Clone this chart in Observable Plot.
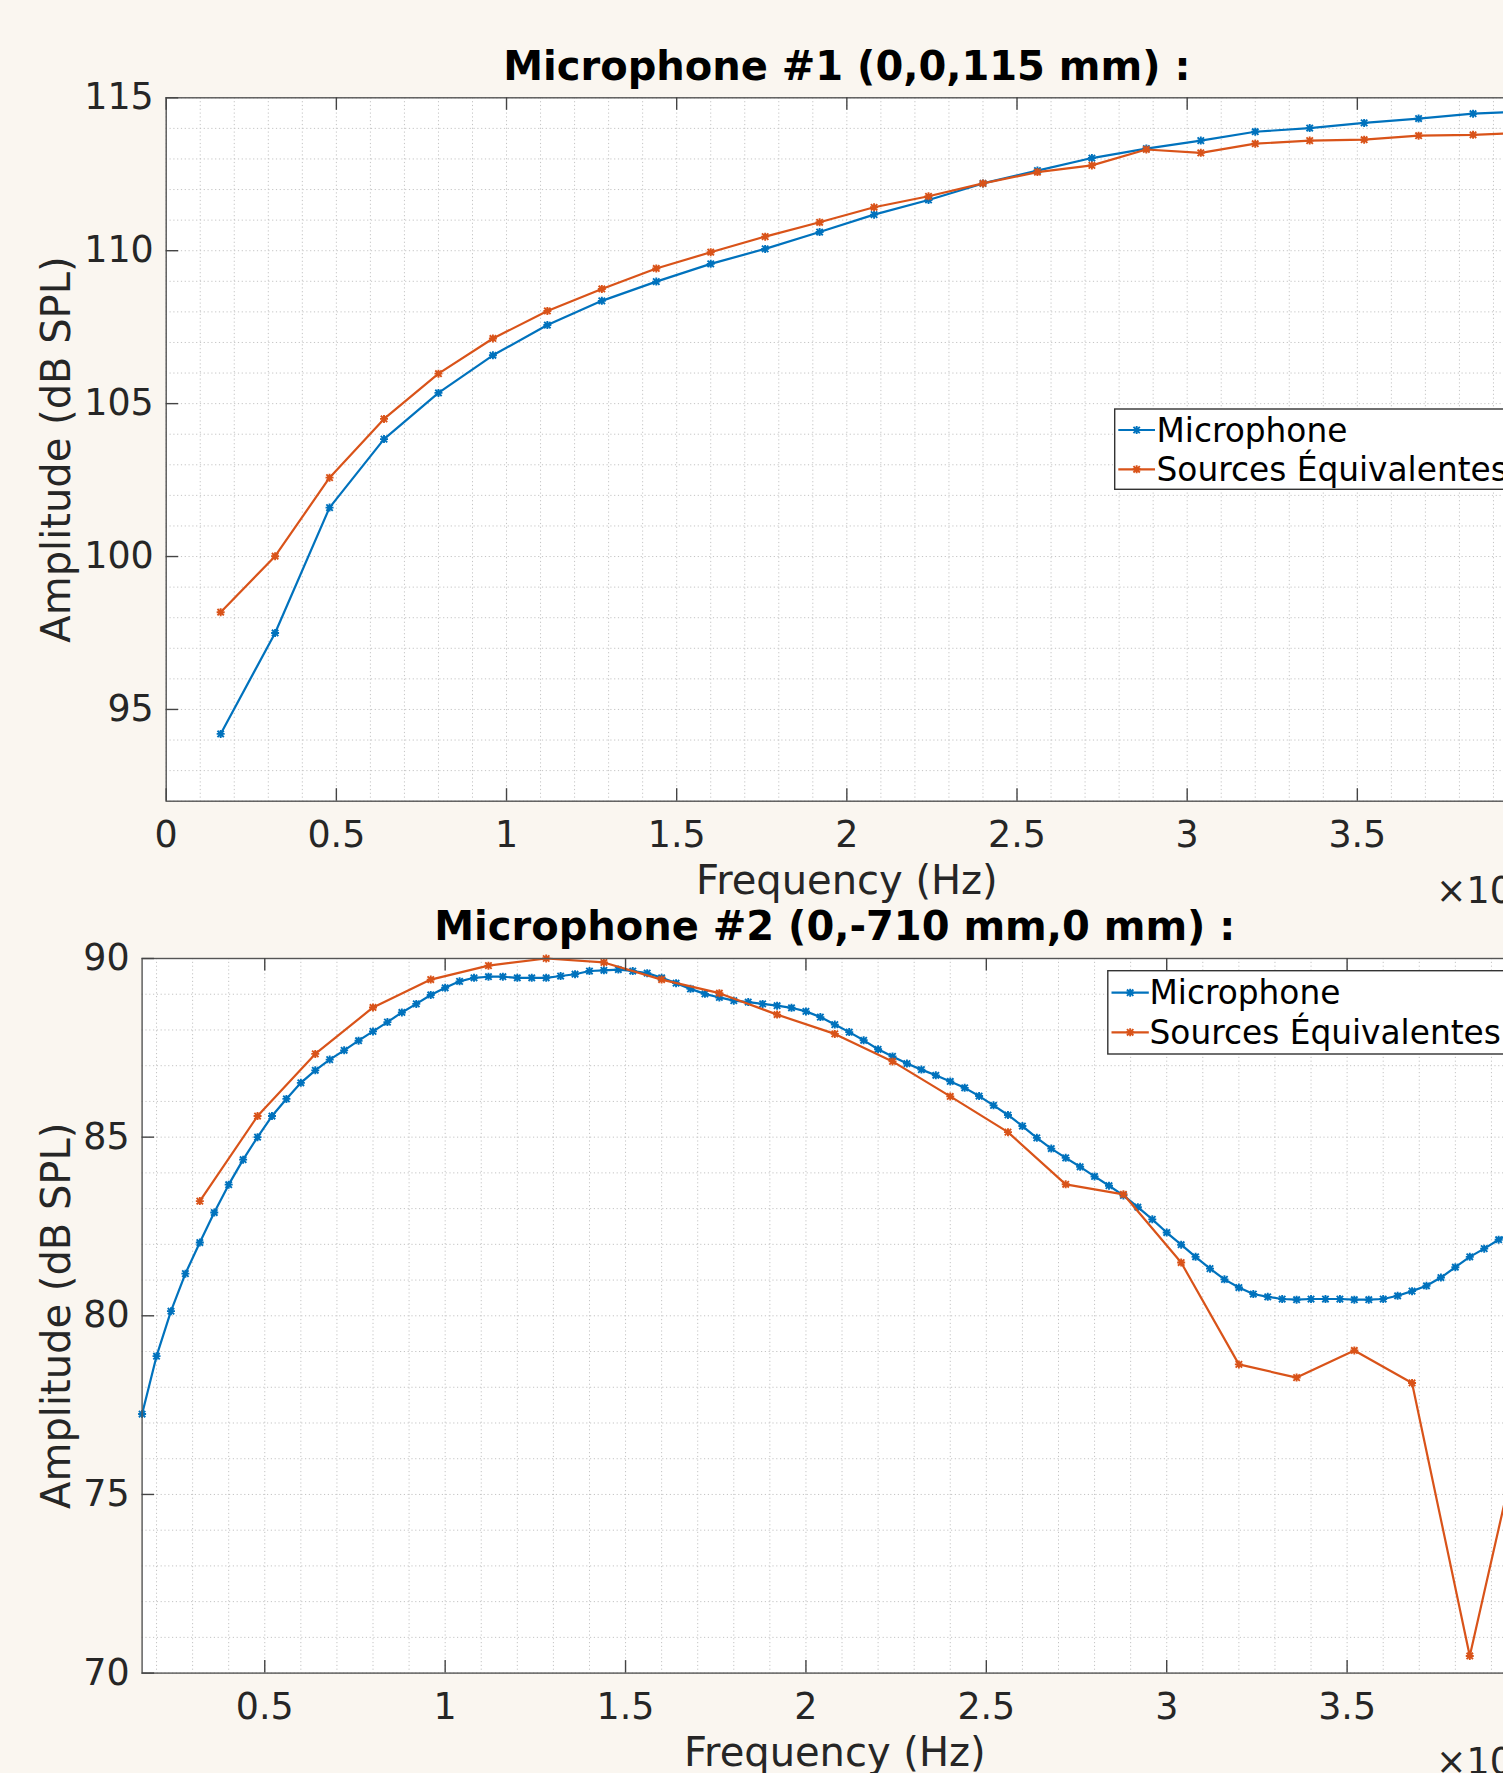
<!DOCTYPE html>
<html>
<head>
<meta charset="utf-8">
<script src="https://cdn.jsdelivr.net/npm/d3@7"></script>
<script src="https://cdn.jsdelivr.net/npm/@observablehq/plot@0.6"></script>
<style>
html,body{margin:0;padding:0;background:#faf6f0;overflow:hidden;}
#wrap{position:relative;width:1560px;height:1773px;overflow:hidden;}
.chart{position:absolute;left:0;}
</style>
</head>
<body>
<div id="wrap"></div>
<script>
// ---------- DATA ----------
// Microphone #1 : frequency (Hz)
const mic1Freq = [1600, 3200, 4800, 6400, 8000, 9600, 11200, 12800, 14400, 16000, 17600, 19200, 20800,
  22400, 24000, 25600, 27200, 28800, 30400, 32000, 33600, 35200, 36800, 38400, 40000];
const mic1Measured = [94.2, 97.5, 101.6, 103.84, 105.35, 106.58, 107.57, 108.36, 108.99, 109.57, 110.06,
  110.61, 111.18, 111.66, 112.2, 112.62, 113.03, 113.34, 113.6, 113.89, 114.01, 114.18, 114.32, 114.48, 114.56];
const mic1Sources = [98.18, 100.01, 102.58, 104.5, 105.98, 107.13, 108.03, 108.75, 109.42, 109.95, 110.46,
  110.93, 111.42, 111.78, 112.2, 112.57, 112.79, 113.31, 113.2, 113.5, 113.6, 113.63, 113.76, 113.79, 113.86];

// Microphone #2 : measured curve (fine frequency grid)
const mic2FreqMeasured = [1600, 2000, 2400, 2800, 3200, 3600, 4000, 4400, 4800, 5200, 5600, 6000, 6400, 6800,
  7200, 7600, 8000, 8400, 8800, 9200, 9600, 10000, 10400, 10800, 11200, 11600, 12000, 12400, 12800, 13200,
  13600, 14000, 14400, 14800, 15200, 15600, 16000, 16400, 16800, 17200, 17600, 18000, 18400, 18800, 19200,
  19600, 20000, 20400, 20800, 21200, 21600, 22000, 22400, 22800, 23200, 23600, 24000, 24400, 24800, 25200,
  25600, 26000, 26400, 26800, 27200, 27600, 28000, 28400, 28800, 29200, 29600, 30000, 30400, 30800, 31200,
  31600, 32000, 32400, 32800, 33200, 33600, 34000, 34400, 34800, 35200, 35600, 36000, 36400, 36800, 37200,
  37600, 38000, 38400, 38800, 39200, 39600, 40000];
const mic2Measured = [77.25, 78.87, 80.13, 81.18, 82.05, 82.89, 83.67, 84.37, 85.0, 85.59, 86.07, 86.52, 86.87,
  87.17, 87.43, 87.7, 87.96, 88.22, 88.49, 88.73, 88.98, 89.18, 89.36, 89.46, 89.49, 89.49, 89.46, 89.46, 89.46,
  89.51, 89.56, 89.65, 89.67, 89.69, 89.65, 89.59, 89.46, 89.31, 89.15, 89.01, 88.91, 88.82, 88.78, 88.73,
  88.68, 88.62, 88.52, 88.36, 88.15, 87.94, 87.71, 87.46, 87.26, 87.06, 86.89, 86.73, 86.56, 86.38, 86.15,
  85.89, 85.62, 85.31, 84.98, 84.68, 84.42, 84.17, 83.9, 83.64, 83.37, 83.04, 82.7, 82.33, 81.99, 81.65,
  81.32, 81.02, 80.79, 80.61, 80.53, 80.47, 80.45, 80.47, 80.47, 80.47, 80.45, 80.45, 80.47, 80.56, 80.69,
  80.84, 81.07, 81.36, 81.65, 81.88, 82.13, 82.35, 82.55];
// Microphone #2 : equivalent sources
const mic2FreqSources = [3200, 4800, 6400, 8000, 9600, 11200, 12800, 14400, 16000, 17600, 19200, 20800, 22400,
  24000, 25600, 27200, 28800, 30400, 32000, 33600, 35200, 36800, 38400, 40000];
const mic2Sources = [83.21, 85.59, 87.33, 88.63, 89.41, 89.8, 90.0, 89.89, 89.41, 89.03, 88.43, 87.89, 87.12,
  86.14, 85.14, 83.68, 83.4, 81.49, 78.64, 78.27, 79.03, 78.12, 70.48, 77.6];

// tick values
const xTicks1 = [0, 5000, 10000, 15000, 20000, 25000, 30000, 35000, 40000];
const yTicks1 = [95, 100, 105, 110, 115];
const xTicks2 = [5000, 10000, 15000, 20000, 25000, 30000, 35000, 40000];
const yTicks2 = [70, 75, 80, 85, 90];

const seriesNames = ["Microphone", "Sources Équivalentes"];
const titles = ["Microphone #1 (0,0,115 mm) :", "Microphone #2 (0,-710 mm,0 mm) :"];

// ---------- STYLE ----------
const BLUE = "#0072BD", ORANGE = "#D95319";
const FONT = "DejaVu Sans";
const AXC = "#262626";
const MR = 4.0, MSW = 1.9;

const asterisk = {
  draw(ctx, size) {
    const r = Math.sqrt(size / Math.PI);
    const d = r * 0.8;
    ctx.moveTo(-r, 0); ctx.lineTo(r, 0);
    ctx.moveTo(0, -r); ctx.lineTo(0, r);
    ctx.moveTo(-d, -d); ctx.lineTo(d, d);
    ctx.moveTo(-d, d); ctx.lineTo(d, -d);
  }
};

function zip(f, v) { return f.map((x, i) => ({f: x, v: v[i]})); }

function makeChart(o) {
  const pw = o.W - o.mL - o.mR, ph = o.H - o.mT - o.mB;
  const mic = zip(o.fMic, o.vMic), src = zip(o.fSrc, o.vSrc);
  const gridStyle = {stroke: "#c4c4c4", strokeOpacity: 1, strokeWidth: 1, strokeDasharray: "1.2,2.6"};
  return Plot.plot({
    width: o.W, height: o.H,
    marginLeft: o.mL, marginRight: o.mR, marginTop: o.mT, marginBottom: o.mB,
    style: {background: "transparent", overflow: "visible", fontFamily: FONT, maxWidth: "none"},
    x: {domain: o.xDomain},
    y: {domain: o.yDomain},
    marks: [
      Plot.frame({fill: "white", stroke: null}),
      Plot.gridX({ticks: o.xMinor, ...gridStyle}),
      Plot.gridY({ticks: o.yMinor, ...gridStyle}),
      Plot.line(mic, {x: "f", y: "v", stroke: BLUE, strokeWidth: 2.2}),
      Plot.dot(mic, {x: "f", y: "v", symbol: asterisk, r: MR, stroke: BLUE, strokeWidth: MSW, fill: "none"}),
      Plot.line(src, {x: "f", y: "v", stroke: ORANGE, strokeWidth: 2.2}),
      Plot.dot(src, {x: "f", y: "v", symbol: asterisk, r: MR, stroke: ORANGE, strokeWidth: MSW, fill: "none"}),
      Plot.frame({stroke: "#555", strokeWidth: 1.4}),
      Plot.ruleX(o.xTicks, {insetTop: ph - 12.5, stroke: "#444", strokeWidth: 1.4}),
      Plot.ruleX(o.xTicks, {insetBottom: ph - 12.5, stroke: "#444", strokeWidth: 1.4}),
      Plot.ruleY(o.yTicks, {insetRight: pw - 12.5, stroke: "#444", strokeWidth: 1.4}),
      Plot.ruleY(o.yTicks, {insetLeft: pw - 12.5, stroke: "#444", strokeWidth: 1.4}),
      Plot.axisX({ticks: o.xTicks, tickSize: 0, tickPadding: 20, tickFormat: d => String(d / 1e4),
        fontSize: 36.4, color: AXC, label: null}),
      Plot.axisY({anchor: "left", ticks: o.yTicks, tickSize: 0, tickPadding: 12.5, tickFormat: d => String(d),
        fontSize: 36.4, color: AXC, label: null}),
      Plot.text([o.title], {text: d => d, frameAnchor: "top", textAnchor: "middle", lineAnchor: "bottom", dy: -18.1,
        fontSize: 40, fontWeight: "bold", fill: "#000"}),
      Plot.text(["Frequency (Hz)"], {text: d => d, frameAnchor: "bottom", textAnchor: "middle", lineAnchor: "bottom",
        dy: 92.8, fontSize: 40, fill: AXC}),
      Plot.text(["×10⁴"], {text: d => d, frameAnchor: "bottom-right", textAnchor: "end", lineAnchor: "bottom",
        dy: 101.3, fontSize: 36.4, fill: AXC}),
      Plot.text(["Amplitude (dB SPL)"], {text: d => d, frameAnchor: "left", textAnchor: "middle", rotate: -90,
        lineAnchor: "bottom", dx: 69 - o.mL, fontSize: 40, fill: AXC})
    ]
  });
}

const wrap = document.getElementById("wrap");

const c1 = makeChart({
  W: 1560, H: 880, mL: 165.7, mR: 33, mT: 97.3, mB: 79.3,
  xDomain: [0, 40000], yDomain: [92, 115],
  xTicks: xTicks1, yTicks: yTicks1,
  xMinor: d3.range(0, 40001, 1000), yMinor: d3.range(92, 115.01, 1),
  fMic: mic1Freq, vMic: mic1Measured, fSrc: mic1Freq, vSrc: mic1Sources,
  title: titles[0]
});
c1.classList.add("chart"); c1.style.top = "0px";
wrap.appendChild(c1);

const c2 = makeChart({
  W: 1560, H: 893, mL: 141.6, mR: 33, mT: 78, mB: 100.4,
  xDomain: [1600, 40000], yDomain: [70, 90],
  xTicks: xTicks2, yTicks: yTicks2,
  xMinor: d3.range(2000, 40001, 1000), yMinor: d3.range(70, 90.01, 1),
  fMic: mic2FreqMeasured, vMic: mic2Measured, fSrc: mic2FreqSources, vSrc: mic2Sources,
  title: titles[1]
});
c2.classList.add("chart"); c2.style.top = "880px";
wrap.appendChild(c2);

// ---------- LEGENDS ----------
const leg = d3.select(wrap).append("svg")
  .attr("class", "chart").style("top", "0px")
  .attr("width", 1560).attr("height", 1773)
  .style("pointer-events", "none");

function drawLegend(b) {
  leg.append("rect").attr("x", b.x).attr("y", b.y).attr("width", 430).attr("height", b.h)
    .attr("fill", "white").attr("stroke", "#333").attr("stroke-width", 1.4);
  const colors = [BLUE, ORANGE];
  b.rows.forEach((ry, i) => {
    leg.append("line").attr("x1", b.l0).attr("x2", b.l1).attr("y1", ry).attr("y2", ry)
      .attr("stroke", colors[i]).attr("stroke-width", 2.2);
    leg.append("path").attr("d", d3.symbol(asterisk, Math.PI * MR * MR)())
      .attr("transform", `translate(${(b.l0 + b.l1) / 2},${ry})`)
      .attr("fill", "none").attr("stroke", colors[i]).attr("stroke-width", MSW);
    leg.append("text").attr("x", b.tx).attr("y", ry + 11.7).text(seriesNames[i])
      .attr("font-family", FONT).attr("font-size", 32.8).attr("fill", "#000");
  });
}
drawLegend({x: 1114.7, y: 409, h: 80.3, rows: [430, 469.3], l0: 1118.3, l1: 1155, tx: 1156.5});
drawLegend({x: 1107.8, y: 970.7, h: 83.3, rows: [992.7, 1032.3], l0: 1111.5, l1: 1148.8, tx: 1149.5});
</script>
</body>
</html>
